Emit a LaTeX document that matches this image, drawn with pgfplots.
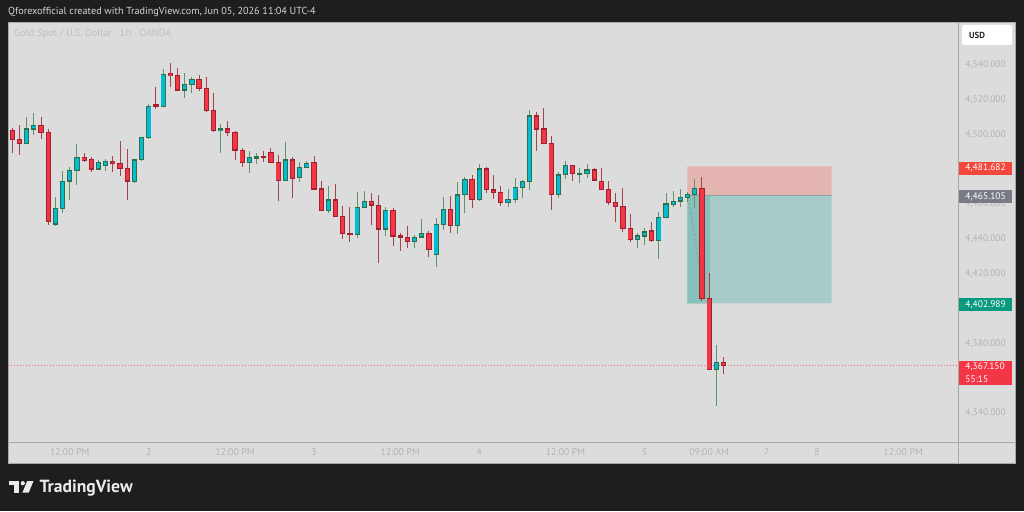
\documentclass[border=0pt]{standalone}
\usepackage{fontspec}
\setmainfont{PT Sans}
\usepackage{pgfplots}
\usepackage{pgfplotstable}
\pgfplotsset{compat=1.18}
\definecolor{bgdark}{HTML}{1E1E1E}
\definecolor{panel}{HTML}{DCDCDC}
\definecolor{panelline}{HTML}{A8A8A8}
\definecolor{ticklab}{HTML}{B3B3B3}
\definecolor{upfill}{HTML}{00BCD4}
\definecolor{upbord}{HTML}{2F7048}
\definecolor{upwick}{HTML}{5E9468}
\definecolor{dnfill}{HTML}{F23645}
\definecolor{dnbord}{HTML}{A3202E}
\definecolor{dnwick}{HTML}{A2434D}
\definecolor{stopzone}{HTML}{E4B4B0}
\definecolor{tpzone}{HTML}{A6CBC8}
\definecolor{tpdark}{HTML}{87C1BC}
\definecolor{entryc}{HTML}{8FA2A2}
\definecolor{stoplab}{HTML}{F4463A}
\definecolor{entrylab}{HTML}{787B86}
\definecolor{tplab}{HTML}{089981}
\definecolor{curlab}{HTML}{F23645}
\definecolor{headtext}{HTML}{D6D6D6}
\definecolor{symtext}{HTML}{BEBEBE}

\pgfplotstableread{
n o h l c
3 4495.0 4510.3 4495.0 4503.2
4 4503.2 4512.2 4499.8 4505.1
7 4448.6 4464.3 4447.6 4457.6
8 4457.6 4479.1 4454.7 4473.3
9 4473.3 4481.2 4462.4 4479.3
10 4479.3 4494.6 4471.0 4486.7
13 4480.2 4485.4 4479.6 4484.0
14 4482.3 4486.0 4479.3 4484.8
18 4472.8 4485.8 4472.0 4485.4
19 4485.4 4498.8 4485.0 4498.4
20 4498.4 4517.4 4497.3 4516.4
22 4516.0 4537.7 4516.0 4534.8
25 4525.6 4535.2 4520.8 4528.9
26 4528.9 4533.3 4524.1 4531.9
30 4502.3 4506.1 4489.6 4503.2
34 4484.0 4490.6 4478.1 4486.7
35 4486.5 4489.6 4482.9 4487.3
39 4473.5 4495.9 4473.5 4485.4
41 4475.2 4484.4 4472.6 4481.2
42 4481.2 4484.8 4481.2 4483.5
45 4456.3 4470.3 4454.7 4462.4
49 4442.5 4466.8 4440.8 4458.2
50 4458.2 4467.6 4458.2 4461.8
53 4445.7 4458.6 4441.9 4456.3
57 4438.5 4442.3 4435.0 4441.1
58 4441.1 4451.5 4441.1 4443.1
60 4431.2 4452.2 4423.7 4448.4
61 4448.4 4464.3 4445.2 4457.0
63 4447.7 4473.0 4442.7 4465.3
64 4465.3 4475.8 4454.8 4474.3
66 4462.8 4483.1 4461.8 4480.2
70 4461.1 4468.7 4458.2 4462.8
71 4462.8 4474.9 4460.5 4469.7
72 4469.7 4473.9 4463.4 4473.0
73 4473.0 4514.1 4468.2 4510.7
77 4465.3 4478.3 4463.4 4476.8
78 4476.8 4484.8 4474.5 4482.1
80 4477.2 4480.6 4472.0 4477.7
81 4477.4 4483.1 4475.3 4479.7
88 4439.8 4443.3 4434.6 4441.7
89 4441.7 4446.1 4436.5 4444.0
91 4439.0 4455.7 4428.3 4452.3
92 4452.3 4466.6 4451.9 4460.1
93 4460.1 4467.6 4458.2 4461.8
94 4461.8 4468.5 4458.6 4464.1
95 4464.1 4467.2 4461.5 4465.7
96 4465.7 4474.3 4457.6 4469.1
99 4364.7 4379.1 4344.0 4369.1
}\upT

\pgfplotstableread{
n o h l c
1 4502.3 4503.6 4489.6 4497.3
2 4497.3 4505.5 4488.3 4495.0
5 4505.1 4509.9 4497.3 4501.3
6 4501.3 4503.2 4448.0 4449.9
11 4486.7 4489.6 4484.4 4485.4
12 4485.8 4486.9 4478.7 4480.2
15 4484.8 4487.9 4478.7 4483.3
16 4483.5 4496.5 4476.4 4480.6
17 4480.6 4491.9 4462.6 4473.3
21 4517.0 4527.5 4514.5 4516.2
23 4535.0 4541.0 4527.5 4533.9
24 4534.2 4538.1 4525.6 4525.6
27 4531.9 4534.2 4525.2 4526.6
28 4526.6 4533.3 4513.2 4513.7
29 4513.7 4524.1 4501.7 4502.3
31 4503.2 4508.0 4499.2 4501.1
32 4501.3 4502.1 4485.4 4491.1
33 4491.1 4492.1 4481.6 4484.0
36 4487.3 4490.6 4484.0 4486.7
37 4489.6 4492.5 4484.0 4484.0
38 4484.0 4488.3 4461.8 4473.5
40 4485.4 4487.3 4463.4 4474.9
43 4484.0 4487.7 4468.2 4468.7
44 4468.7 4473.5 4456.3 4456.3
46 4462.4 4471.6 4452.8 4452.8
47 4452.8 4459.0 4439.8 4443.1
48 4443.1 4458.6 4438.5 4442.5
51 4461.8 4466.2 4448.0 4459.5
52 4459.3 4465.1 4426.0 4445.7
54 4456.3 4457.6 4436.2 4441.7
55 4441.7 4443.2 4433.3 4440.9
56 4441.1 4447.7 4435.0 4438.5
59 4443.1 4444.6 4429.8 4433.9
62 4457.0 4464.7 4443.6 4447.7
65 4474.3 4476.8 4458.0 4462.8
67 4480.2 4481.6 4466.2 4468.2
68 4468.2 4476.8 4462.8 4466.8
69 4466.8 4470.5 4459.2 4461.1
74 4510.7 4513.2 4490.8 4503.2
75 4503.2 4515.1 4495.0 4495.0
76 4495.0 4499.2 4456.7 4465.3
79 4482.1 4482.5 4473.3 4477.4
82 4479.7 4480.6 4473.3 4473.9
83 4473.3 4480.6 4468.2 4468.5
84 4468.5 4473.3 4459.5 4460.9
85 4461.1 4466.2 4450.0 4458.6
86 4458.6 4469.1 4443.8 4446.1
87 4446.1 4454.2 4438.5 4439.8
90 4444.6 4449.6 4438.5 4439.0
97 4469.1 4475.4 4404.5 4405.9
98 4405.9 4420.6 4364.7 4364.7
100 4369.1 4372.0 4362.4 4367.15
}\dnT

\newcommand{\lab}{\fontsize{9.5pt}{11pt}\selectfont}
\newcommand{\xlab}{\fontsize{9.8pt}{11pt}\selectfont}

\begin{document}
\begin{tikzpicture}
\useasboundingbox (0pt,0pt) rectangle (1024pt,511pt);
\fill[bgdark] (0pt,0pt) rectangle (1024pt,511pt);
% light panel
\fill[panel] (8pt,48pt) rectangle (1015.5pt,489pt);
\draw[panelline, line width=0.8pt] (8pt,48pt) rectangle (1015.5pt,489pt);
\draw[panelline, line width=0.8pt] (8pt,69pt) -- (1015.5pt,69pt);
\draw[panelline, line width=0.8pt] (958pt,48pt) -- (958pt,489pt);

\begin{axis}[
  at={(8pt,69pt)}, anchor=south west, scale only axis,
  width=950pt, height=420pt,
  xmin=0.4, xmax=132.64, ymin=4323.3, ymax=4564.7,
  axis line style={draw=none},
  major tick length=0pt, tick style={draw=none},
  xtick={9,20,32,43,55,66,78,89,98,106,113,125},
  xticklabels={12:00 PM,2,12:00 PM,3,12:00 PM,4,12:00 PM,5,09:00 AM,7,8,12:00 PM},
  ytick={4340,4380,4400,4420,4440,4460,4500,4520,4540},
  scaled y ticks=false,
  ytick pos=right, yticklabel pos=right,
  xticklabel style={anchor=center, yshift=-10pt, inner sep=0pt, font=\xlab, text=ticklab},
  yticklabel style={anchor=west, inner sep=0pt, xshift=7.2pt, font=\lab, text=ticklab,
     /pgf/number format/fixed, /pgf/number format/fixed zerofill,
     /pgf/number format/precision=3, /pgf/number format/1000 sep={,},
     /pgf/number format/assume math mode=true},
  clip=true,
]
% position tool
\addplot[draw=none, fill=stopzone, forget plot] coordinates {(94.96,4465.105) (115.06,4465.105) (115.06,4481.682) (94.96,4481.682) (94.96,4465.105)};
\addplot[draw=none, fill=tpzone, forget plot] coordinates {(94.96,4402.989) (115.06,4402.989) (115.06,4465.105) (94.96,4465.105) (94.96,4402.989)};
\addplot[draw=none, fill=tpdark, forget plot] coordinates {(94.96,4402.989) (98.1,4402.989) (98.1,4465.105) (94.96,4465.105) (94.96,4402.989)};
\addplot[color=entryc, line width=1.3pt, forget plot] coordinates {(94.96,4465.105) (115.06,4465.105)};
\addplot[color=entryc, line width=1.1pt, dash pattern=on 2.5pt off 2pt, forget plot] coordinates {(95.1,4463.4) (97.4,4405)};
% current price line
\addplot[color=curlab!75, line width=0.8pt, dash pattern=on 1pt off 2pt, forget plot] coordinates {(0.4,4367.15) (132.64,4367.15)};
% wicks
\addplot[draw=none, mark=none, forget plot, error bars/.cd, y dir=both, y explicit, error mark=none,
  error bar style={draw=upwick, line width=1pt, solid}]
  table[x=n, y expr={(\thisrow{h}+\thisrow{l})/2}, y error expr={(\thisrow{h}-\thisrow{l})/2}] {\upT};
\addplot[draw=none, mark=none, forget plot, error bars/.cd, y dir=both, y explicit, error mark=none,
  error bar style={draw=dnwick, line width=1pt, solid}]
  table[x=n, y expr={(\thisrow{h}+\thisrow{l})/2}, y error expr={(\thisrow{h}-\thisrow{l})/2}] {\dnT};
% bodies: border
\addplot[draw=none, mark=none, forget plot, error bars/.cd, y dir=both, y explicit, error mark=none,
  error bar style={draw=upbord, line width=5.2pt, solid}]
  table[x=n, y expr={(\thisrow{o}+\thisrow{c})/2}, y error expr={abs(\thisrow{c}-\thisrow{o})/2+0.3}] {\upT};
\addplot[draw=none, mark=none, forget plot, error bars/.cd, y dir=both, y explicit, error mark=none,
  error bar style={draw=dnbord, line width=5.2pt, solid}]
  table[x=n, y expr={(\thisrow{o}+\thisrow{c})/2}, y error expr={abs(\thisrow{c}-\thisrow{o})/2+0.3}] {\dnT};
% bodies: fill
\addplot[draw=none, mark=none, forget plot, error bars/.cd, y dir=both, y explicit, error mark=none,
  error bar style={draw=upfill, line width=3.4pt, solid}]
  table[x=n, y expr={(\thisrow{o}+\thisrow{c})/2}, y error expr={max(abs(\thisrow{c}-\thisrow{o})/2-0.4,0)}] {\upT};
\addplot[draw=none, mark=none, forget plot, error bars/.cd, y dir=both, y explicit, error mark=none,
  error bar style={draw=dnfill, line width=3.4pt, solid}]
  table[x=n, y expr={(\thisrow{o}+\thisrow{c})/2}, y error expr={max(abs(\thisrow{c}-\thisrow{o})/2-0.4,0)}] {\dnT};
\end{axis}

% header texts
\node[anchor=west, inner sep=0pt, text=headtext, font=\fontsize{10.2pt}{12pt}\selectfont] at (8pt,499pt) {Qforexofficial created with TradingView.com, Jun 05, 2026 11:04 UTC-4};
\node[anchor=west, inner sep=0pt, text=symtext, font=\fontsize{10.2pt}{12pt}\selectfont] at (14pt,477.5pt) {Gold Spot / U.S. Dollar · 1h · OANDA};

% USD box
\fill[white, rounded corners=2pt] (962pt,466pt) rectangle (1012pt,486pt);
\node[anchor=west, inner sep=0pt, text=black!85, font=\fontsize{8.8pt}{10pt}\selectfont\bfseries] at (969pt,476pt) {USD};

% price labels
\fill[stoplab] (959.3pt,336pt) rectangle (1012.3pt,349.3pt);
\node[anchor=west, inner sep=0pt, text=white, font=\lab] at (965.2pt,342.7pt) {4,481.682};
\fill[entrylab] (959.3pt,307.7pt) rectangle (1012.3pt,321pt);
\node[anchor=west, inner sep=0pt, text=white, font=\lab] at (965.2pt,314.3pt) {4,465.105};
\fill[tplab] (959.3pt,200pt) rectangle (1012.3pt,212.7pt);
\node[anchor=west, inner sep=0pt, text=white, font=\lab] at (965.2pt,206.3pt) {4,402.989};
\fill[curlab] (959.3pt,126pt) rectangle (1012.3pt,150pt);
\node[anchor=west, inner sep=0pt, text=white, font=\lab] at (965.2pt,144.3pt) {4,367.150};
\node[anchor=west, inner sep=0pt, text=white, font=\lab] at (965.2pt,132pt) {55:15};

% TradingView logo
\fill[white!92!black] (9.3pt,30pt) rectangle (19pt,25.7pt);
\fill[white!92!black] (14pt,30pt) rectangle (19pt,18.3pt);
\fill[white!92!black] (22.8pt,27.8pt) circle (2.1pt);
\fill[white!92!black] (27.2pt,30pt) -- (33.5pt,30pt) -- (28.7pt,18.3pt) -- (22.4pt,18.3pt) -- cycle;
\node[anchor=base west, inner sep=0pt, text=white!92!black, font=\fontsize{17.6pt}{19pt}\selectfont\bfseries] at (39.3pt,18.3pt) {TradingView};
\end{tikzpicture}
\end{document}
